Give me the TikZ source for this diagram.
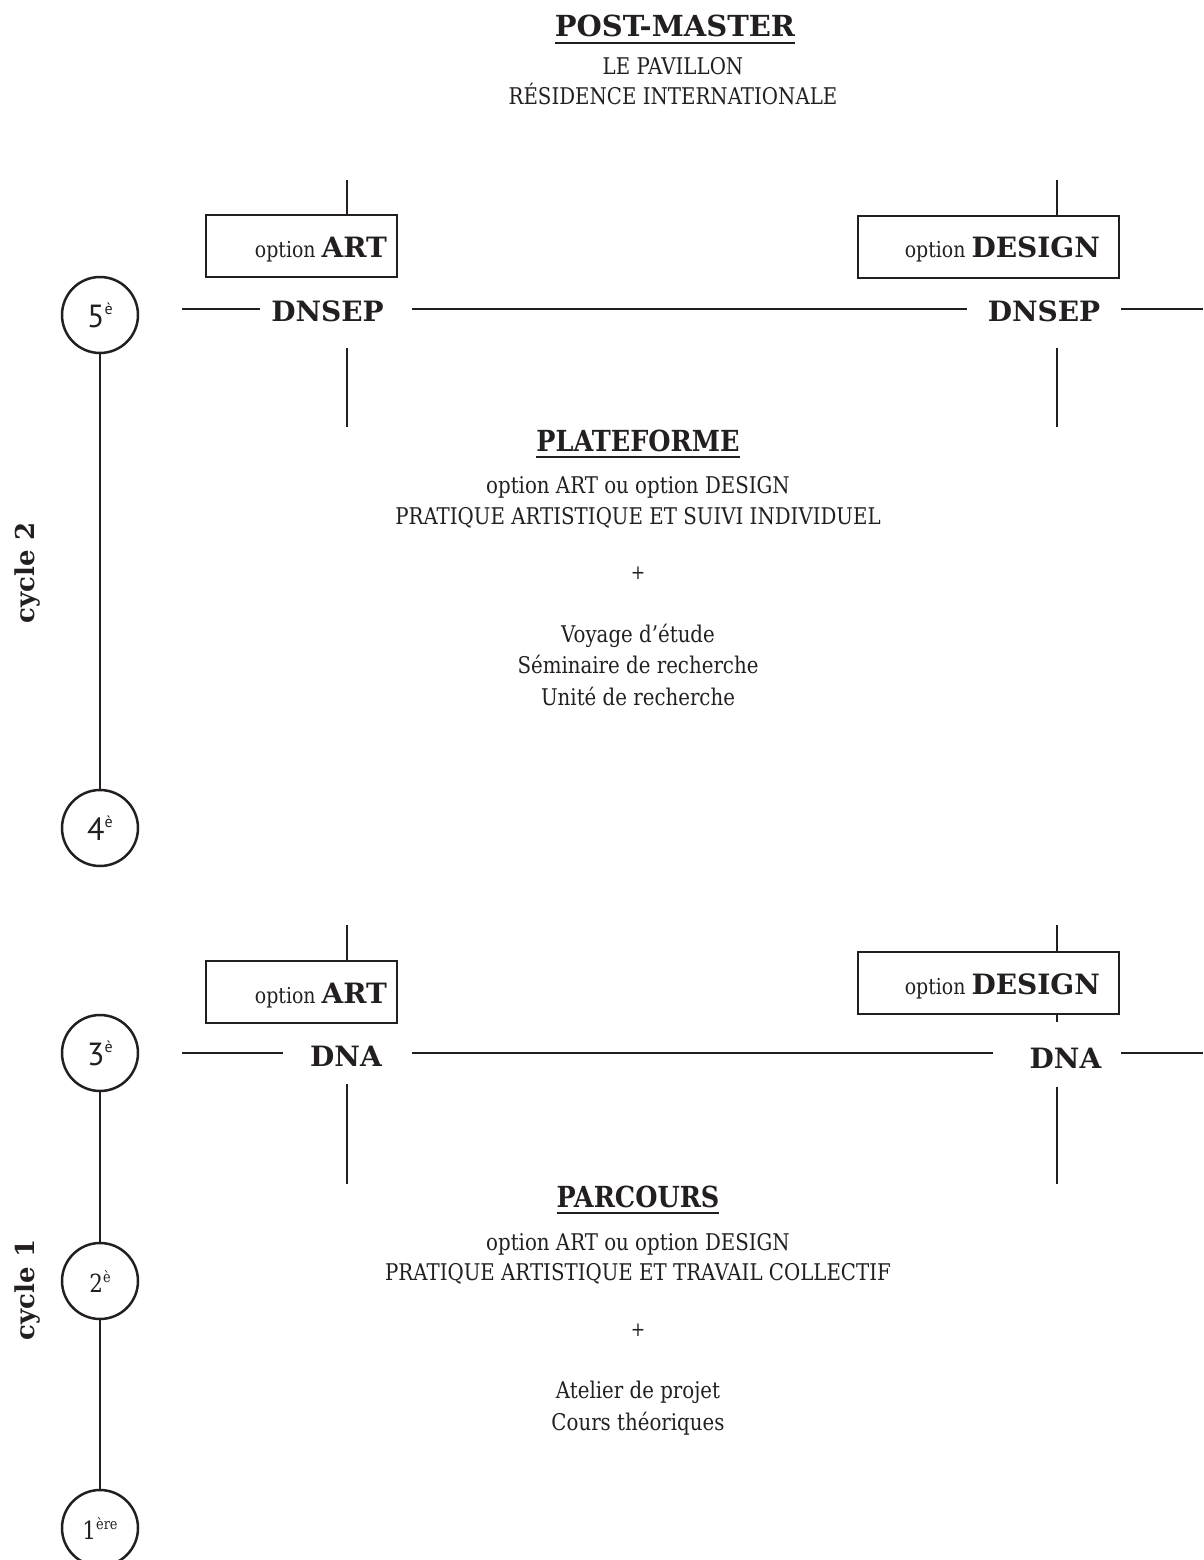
\documentclass[tikz,border=0pt]{standalone}
\usepackage{fontspec}
\setmainfont{DejaVu Serif}
\newfontfamily\regf{DejaVu Serif}[FakeStretch=0.86]
\newfontfamily\boldf{DejaVu Serif}
\newfontfamily\boldnf{DejaVu Serif}[FakeStretch=0.88]
\newfontfamily\numf{PT Sans}
\definecolor{ink}{RGB}{35,31,32}
\newcommand\bodyfont{\regf\fontsize{23}{28}\selectfont}
\newcommand\titlefont{\boldf\bfseries\fontsize{28}{32}\selectfont}
\newcommand\toptitlefont{\boldf\bfseries\fontsize{29}{32}\selectfont}
\newcommand\blocktitlefont{\boldnf\bfseries\fontsize{29}{32}\selectfont}
\newcommand\optfont{\regf\fontsize{22}{26}\selectfont}
\newcommand\optbold{\boldf\bfseries\fontsize{28}{32}\selectfont}
\newcommand\plusfont{\regf\fontsize{20}{20}\selectfont}
\newcommand\yearsup[1]{\raisebox{13pt}{\fontsize{16}{16}\selectfont #1}}
\tikzset{
  txt/.style={inner sep=0pt, outer sep=0pt, text=ink, anchor=base},
  thinln/.style={draw=ink, line width=1.5pt},
  optbox/.style={draw=ink, line width=2pt, inner sep=0pt, minimum height=62pt},
  yearc/.style={circle, draw=ink, line width=2.5pt, minimum size=76pt, inner sep=0pt, text=ink},
  yearln/.style={draw=ink, line width=2.5pt},
  uline/.style={draw=ink, line width=2pt},
}
\begin{document}
\begin{tikzpicture}[x=1pt,y=-1pt]
\useasboundingbox (0,0) rectangle (1203,1560);

% ---------------- top block ----------------
\node[txt] (pm) at (675,37) {\toptitlefont POST-MASTER};
\draw[uline] ([yshift=-6pt]pm.base west) -- ([yshift=-6pt]pm.base east);
\node[txt] (pav) at (673,75) {\bodyfont LE PAVILLON};
\node[txt] (res) at (673,105) {\bodyfont RÉSIDENCE INTERNATIONALE};

% ---------------- DNSEP level ----------------
\node[optbox, minimum width=191pt] (boxA1) at (301.5,245.5) {};
\node[txt, anchor=base east] (optA1) at (387,257) {\optfont option \optbold ART};
\node[optbox, minimum width=261pt] (boxD1) at (988.5,246.5) {};
\node[txt, anchor=base east] (optD1) at (1100,257) {\optfont option \optbold DESIGN};

\node[txt] (dnsepA) at (327.5,321) {\titlefont DNSEP};
\node[txt] (dnsepD) at (1044,321) {\titlefont DNSEP};

\coordinate (h1a) at (182,309);
\coordinate (h1b) at (260,309);
\coordinate (h1c) at (412,309);
\coordinate (h1d) at (967,309);
\coordinate (h1e) at (1121,309);
\coordinate (h1f) at (1203,309);
\draw[thinln] (h1a) -- (h1b);
\draw[thinln] (h1c) -- (h1d);
\draw[thinln] (h1e) -- (h1f);

\coordinate (vA1t) at (347,180);
\coordinate (vA1b) at (347,348);
\coordinate (vA1e) at (347,427);
\draw[thinln] (vA1t) -- (boxA1.north -| vA1t);
\draw[thinln] (vA1b) -- (vA1e);
\coordinate (vD1t) at (1057,180);
\coordinate (vD1b) at (1057,348);
\coordinate (vD1e) at (1057,427);
\draw[thinln] (vD1t) -- (boxD1.north -| vD1t);
\draw[thinln] (vD1b) -- (vD1e);

% ---------------- PLATEFORME ----------------
\node[txt] (plat) at (638,451) {\blocktitlefont PLATEFORME};
\draw[uline] ([yshift=-6pt]plat.base west) -- ([yshift=-6pt]plat.base east);
\node[txt] (p1) at (638,493) {\bodyfont option ART ou option DESIGN};
\node[txt] (p2) at (638,524) {\bodyfont PRATIQUE ARTISTIQUE ET SUIVI INDIVIDUEL};
\node[txt] (p3) at (638,579) {\plusfont +};
\node[txt] (p4) at (638,642) {\bodyfont Voyage d’étude};
\node[txt] (p5) at (638,673) {\bodyfont Séminaire de recherche};
\node[txt] (p6) at (638,705) {\bodyfont Unité de recherche};

% ---------------- DNA level ----------------
\node[optbox, minimum width=191pt] (boxA2) at (301.5,992) {};
\node[txt, anchor=base east] (optA2) at (387,1003) {\optfont option \optbold ART};
\node[optbox, minimum width=261pt] (boxD2) at (988.5,983) {};
\node[txt, anchor=base east] (optD2) at (1100,994) {\optfont option \optbold DESIGN};

\node[txt] (dnaA) at (346,1066) {\titlefont DNA};
\node[txt] (dnaD) at (1065.5,1068) {\titlefont DNA};

\coordinate (h2a) at (182,1053);
\coordinate (h2b) at (283,1053);
\coordinate (h2c) at (412,1053);
\coordinate (h2d) at (993,1053);
\coordinate (h2e) at (1121,1053);
\coordinate (h2f) at (1203,1053);
\draw[thinln] (h2a) -- (h2b);
\draw[thinln] (h2c) -- (h2d);
\draw[thinln] (h2e) -- (h2f);

\coordinate (vA2t) at (347,925);
\coordinate (vA2b) at (347,1084);
\coordinate (vA2e) at (347,1184);
\draw[thinln] (vA2t) -- (boxA2.north -| vA2t);
\draw[thinln] (vA2b) -- (vA2e);
\coordinate (vD2t) at (1057,925);
\coordinate (vD2m) at (1057,1022);
\coordinate (vD2b) at (1057,1087);
\coordinate (vD2e) at (1057,1184);
\draw[thinln] (vD2t) -- (boxD2.north -| vD2t);
\draw[thinln] (boxD2.south -| vD2m) -- (vD2m);
\draw[thinln] (vD2b) -- (vD2e);

% ---------------- PARCOURS ----------------
\node[txt] (parc) at (638,1207) {\blocktitlefont PARCOURS};
\draw[uline] ([yshift=-6pt]parc.base west) -- ([yshift=-6pt]parc.base east);
\node[txt] (q1) at (638,1250) {\bodyfont option ART ou option DESIGN};
\node[txt] (q2) at (638,1280) {\bodyfont PRATIQUE ARTISTIQUE ET TRAVAIL COLLECTIF};
\node[txt] (q3) at (638,1336) {\plusfont +};
\node[txt] (q4) at (638,1398) {\bodyfont Atelier de projet};
\node[txt] (q5) at (638,1430) {\bodyfont Cours théoriques};

% ---------------- years ----------------
\node[yearc] (c5) at (100,315) {\numf\fontsize{32}{32}\selectfont 5\yearsup{è}};
\node[yearc] (c4) at (100,828) {\numf\fontsize{32}{32}\selectfont 4\yearsup{è}};
\node[yearc] (c3) at (100,1053) {\numf\fontsize{32}{32}\selectfont 3\yearsup{è}};
\node[yearc] (c2) at (100,1281) {\regf\fontsize{25}{25}\selectfont 2\raisebox{10pt}{\fontsize{15}{15}\selectfont è}};
\node[yearc] (c1) at (100,1528) {\regf\fontsize{25}{25}\selectfont 1\raisebox{10pt}{\fontsize{15}{15}\selectfont ère}};
\draw[yearln] (c5) -- (c4);
\draw[yearln] (c3) -- (c2);
\draw[yearln] (c2) -- (c1);

\node[txt, anchor=center, rotate=90] (cy2) at (28,573) {\boldf\bfseries\fontsize{26}{30}\selectfont cycle 2};
\node[txt, anchor=center, rotate=90] (cy1) at (28,1290) {\boldf\bfseries\fontsize{26}{30}\selectfont cycle 1};
\end{tikzpicture}
\end{document}
